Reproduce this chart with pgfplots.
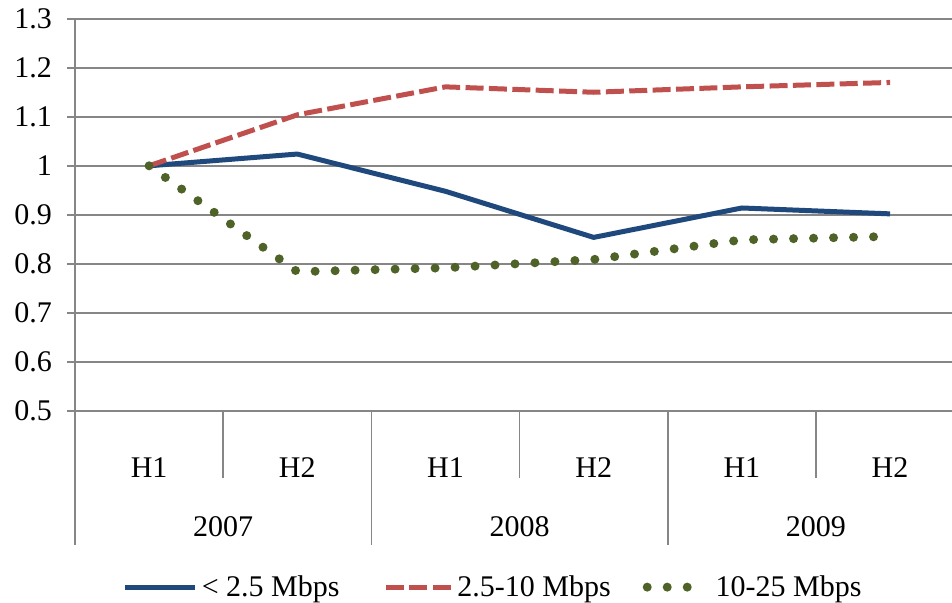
\documentclass[border=0pt]{standalone}
\usepackage{fontspec}
\setmainfont{Liberation Serif}
\usepackage{pgfplots}
\pgfplotsset{compat=1.18}
\definecolor{cblue}{RGB}{31,73,125}
\definecolor{cred}{RGB}{192,80,77}
\definecolor{cgreen}{RGB}{79,98,40}
\definecolor{cgrid}{RGB}{134,134,134}
\pgfplotsset{
  legA/.style={legend image code/.code={\draw[##1] (0pt,0pt) -- (35pt,0pt);}},
  legB/.style={legend image code/.code={\draw[##1] (0pt,0pt) -- (32.4pt,0pt);}},
  legC/.style={legend image code/.code={\draw[##1] (0pt,0pt) -- (30pt,0pt);}},
}
\begin{document}
\begin{tikzpicture}
\begin{axis}[
  at={(37.5pt,96pt)}, anchor=south west,
  scale only axis, width=438.5pt, height=196.15pt,
  xmin=-0.5, xmax=5.418, ymin=0.5, ymax=1.3,
  clip=false,
  axis x line*=bottom, axis y line*=left,
  axis line style={draw=cgrid, line width=1pt, -},
  ytick={0.5,0.6,0.7,0.8,0.9,1.0,1.1,1.2,1.3},
  ymajorgrids, grid style={draw=cgrid, line width=1pt},
  y tick style={draw=cgrid, line width=1pt},
  tick align=outside, major tick length=4pt,
  xtick={0,1,2,3,4,5},
  xticklabels={H1,H2,H1,H2,H1,H2},
  x tick style={draw=none},
  xticklabel style={anchor=center, yshift=-24.5pt},
  yticklabel style={anchor=east, xshift=-4pt},
  /pgf/number format/assume math mode=true,
  /pgf/number format/fixed,
  tick label style={font=\fontsize{15pt}{18pt}\selectfont},
  legend columns=3,
  legend style={at={(axis description cs:0.478,-0.449)}, anchor=center, draw=none,
    font=\fontsize{15pt}{18pt}\selectfont,
    /tikz/column 2/.style={column sep=20pt},
    /tikz/column 4/.style={column sep=14pt}},
]
\addplot[cblue, line width=2.5pt, line join=round, legA] coordinates {
  (0,1.0) (1,1.024) (2,0.948) (3,0.854) (4,0.914) (5,0.902)};
\addlegendentry{< 2.5 Mbps}
\addplot[cred, line width=2.5pt, dash pattern=on 9pt off 2.7pt, legB] coordinates {
  (0,1.0) (1,1.104) (2,1.161) (3,1.150) (4,1.161) (5,1.170)};
\addlegendentry{2.5-10 Mbps}
\addplot[cgreen, line width=4.5pt, line cap=round, dash pattern=on 0pt off 10pt, legC] coordinates {
  (0,1.0) (1,0.784) (2,0.792) (3,0.809) (4,0.849) (5,0.856)};
\addlegendentry{10-25 Mbps}
% category separators
\draw[cgrid, line width=0.8pt] (axis cs:0.5,0.5) -- ([yshift=-33.3pt]axis cs:0.5,0.5);
\draw[cgrid, line width=0.8pt] (axis cs:2.5,0.5) -- ([yshift=-33.3pt]axis cs:2.5,0.5);
\draw[cgrid, line width=0.8pt] (axis cs:4.5,0.5) -- ([yshift=-33.3pt]axis cs:4.5,0.5);
\draw[cgrid, line width=0.8pt] (axis cs:-0.5,0.5) -- ([yshift=-67pt]axis cs:-0.5,0.5);
\draw[cgrid, line width=0.8pt] (axis cs:1.5,0.5) -- ([yshift=-67pt]axis cs:1.5,0.5);
\draw[cgrid, line width=0.8pt] (axis cs:3.5,0.5) -- ([yshift=-67pt]axis cs:3.5,0.5);
\node[font=\fontsize{15pt}{18pt}\selectfont] at ([yshift=-57.9pt]axis cs:0.5,0.5) {2007};
\node[font=\fontsize{15pt}{18pt}\selectfont] at ([yshift=-57.9pt]axis cs:2.5,0.5) {2008};
\node[font=\fontsize{15pt}{18pt}\selectfont] at ([yshift=-57.9pt]axis cs:4.5,0.5) {2009};
\end{axis}
\pgfresetboundingbox
\useasboundingbox (0,0) rectangle (476pt,301.5pt);
\end{tikzpicture}
\end{document}
